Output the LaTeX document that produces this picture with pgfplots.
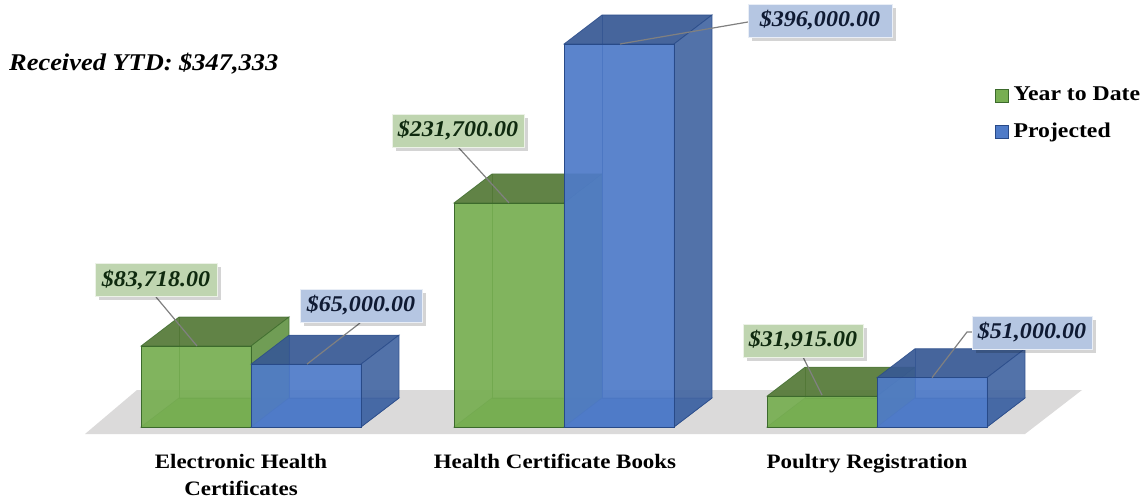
\documentclass[border=0pt]{standalone}
\usepackage{fontspec}
\setmainfont{Liberation Serif}
\newfontfamily\labfont[FakeStretch=1.07]{Liberation Serif}
\newfontfamily\recfont[FakeStretch=1.10]{Liberation Serif}
\newfontfamily\catfont[FakeStretch=1.12]{Liberation Serif}
\newfontfamily\legfont[FakeStretch=1.13]{Liberation Serif}
\usepackage{pgfplots}
\pgfplotsset{compat=1.18}
\usetikzlibrary{shadows}
\definecolor{gF}{HTML}{77AE52}
\definecolor{gT}{HTML}{557A38}
\definecolor{gS}{HTML}{659648}
\definecolor{gE}{HTML}{3C6A2C}
\definecolor{bF}{HTML}{4F7BC8}
\definecolor{bT}{HTML}{385994}
\definecolor{bS}{HTML}{4567A3}
\definecolor{bE}{HTML}{284A88}
\definecolor{gL}{HTML}{BFD5B0}
\definecolor{bL}{HTML}{B5C6E2}
\definecolor{gX}{HTML}{0F2A0F}
\definecolor{bX}{HTML}{0F1A33}
\definecolor{floorc}{HTML}{DBDADA}
% x0, x1, x0+depth, x1+depth, value, value+depth, face prefix
\newcommand{\threeDbar}[7]{%
  \addplot[forget plot, draw=#7E, line width=.7pt, fill=#7F, fill opacity=.9, draw opacity=.8] coordinates {(#1,0)(#2,0)(#4,30000)(#3,30000)} --cycle;
  \addplot[forget plot, draw=#7E, line width=.7pt] coordinates {(#3,30000)(#3,#6)};
  \addplot[forget plot, draw=#7E, line width=.7pt] coordinates {(#3,30000)(#4,30000)};
  \addplot[forget plot, draw=#7E, line width=.7pt, fill=#7T, fill opacity=.93, draw opacity=.8] coordinates {(#1,#5)(#2,#5)(#4,#6)(#3,#6)} --cycle;
  \addplot[forget plot, draw=#7E, line width=.7pt, fill=#7S, fill opacity=.93, draw opacity=.8] coordinates {(#2,0)(#4,30000)(#4,#6)(#2,#5)} --cycle;
  \addplot[forget plot, draw=#7E, line width=.8pt, fill=#7F, fill opacity=.93] coordinates {(#1,0)(#2,0)(#2,#5)(#1,#5)} --cycle;
}
\tikzset{
  lab/.style={font=\labfont\fontsize{22.5}{24}\selectfont\bfseries\itshape, text=#1X,
    inner sep=0pt, minimum height=33pt, minimum width=122pt, fill=#1L, draw=white!70!#1L, line width=.6pt,
    drop shadow={shadow xshift=4pt, shadow yshift=-4pt, fill=black, opacity=.17}},
  lead/.style={draw=gray, line width=1.2pt}
}
\begin{document}
\begin{tikzpicture}
\path[use as bounding box] (0,-55pt) rectangle (1142pt,445pt);
\begin{axis}[
  scale only axis, width=1142pt, height=445pt,
  xmin=0, xmax=1142, ymin=-18611, ymax=441494,
  axis line style={draw=none}, tick style={draw=none},
  ytick=\empty,
  xtick={241,555,867}, xticklabels={{Electronic Health\\Certificates},{Health Certificate Books},{Poultry Registration}},
  xticklabel style={align=center, font=\catfont\fontsize{20.5}{26.5}\selectfont\bfseries, text=black, yshift=-6pt},
  major tick length=0pt,
  clip=false, legend cell align=left,
  legend style={at={(995pt,358pt)}, anchor=north west, draw=none, fill=none, row sep=20pt, inner sep=0pt,
    font=\legfont\fontsize{21}{22}\selectfont\bfseries, nodes={inner sep=0pt, anchor=base west}, column sep=5pt},
  legend image code/.code={\draw[#1] (0pt,-1pt) rectangle (13pt,12pt);},
]
\addlegendimage{fill=gF, draw=gE, line width=.4pt}
\addlegendentry{Year to Date}
\addlegendimage{fill=bF, draw=bE, line width=.4pt}
\addlegendentry{Projected}
% floor
\addplot[forget plot, draw=none, fill=floorc] coordinates {(85,-7240)(1025,-7240)(1082,38250)(137,38250)} --cycle;
% bars
\threeDbar{141}{251}{179}{289}{83718}{113718}{g}
\threeDbar{251}{361}{289}{399}{65000}{95000}{b}
\threeDbar{454}{564}{492}{602}{231700}{261700}{g}
\threeDbar{564}{674}{602}{712}{396000}{426000}{b}
\threeDbar{767}{877}{805}{915}{31915}{61915}{g}
\threeDbar{877}{987}{915}{1025}{51000}{81000}{b}
% leaders
\addplot[forget plot, lead] coordinates {(156,134414)(197,83718)};
\addplot[forget plot, lead] coordinates {(360,107531)(307,65000)};
\addplot[forget plot, lead] coordinates {(458,289506)(509,231700)};
\addplot[forget plot, lead] coordinates {(748,418750)(620,396000)};
\addplot[forget plot, lead] coordinates {(803,72377)(822,33086)};
\addplot[forget plot, lead] coordinates {(972,98225)(967,98225)(932,51000)};
% labels
\node[lab=g] at (axis cs:156,151991) {\$83,718.00};
\node[lab=b] at (axis cs:361,125625) {\$65,000.00};
\node[lab=g, minimum width=132pt] at (axis cs:458,306566) {\$231,700.00};
\node[lab=b, minimum width=144pt] at (axis cs:820,420300) {\$396,000.00};
\node[lab=g, minimum width=120pt] at (axis cs:803,89437) {\$31,915.00};
\node[lab=b, minimum width=120pt] at (axis cs:1032,97708) {\$51,000.00};
\node[anchor=west, inner sep=0pt, font=\recfont\fontsize{24}{25}\selectfont\bfseries\itshape] at (axis cs:9,375300) {Received YTD: \$347,333};
\end{axis}
\end{tikzpicture}
\end{document}
